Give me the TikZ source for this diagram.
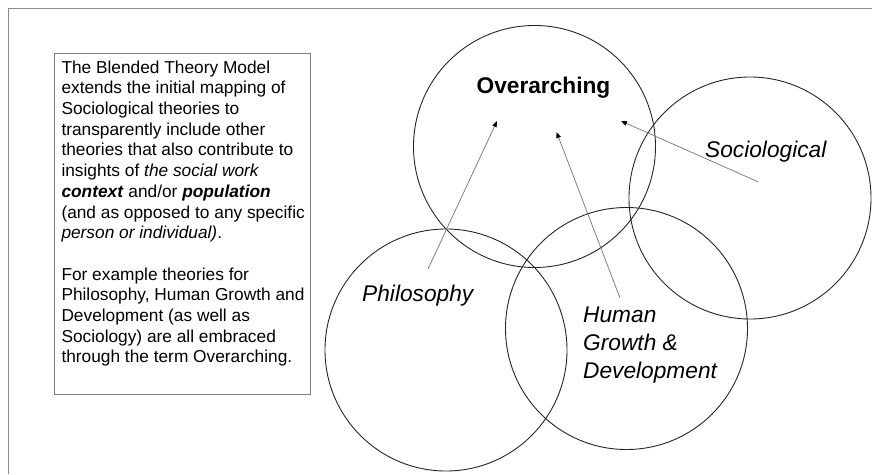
\documentclass[tikz,border=0pt]{standalone}
\usepackage{fontspec}
\setmainfont{Liberation Sans}
\usetikzlibrary{arrows.meta}
\begin{document}
\begin{tikzpicture}[x=1pt,y=-1pt,
  venn/.style={circle,draw=black!85,line width=0.9pt,minimum size=242pt,inner sep=0pt},
  lbl/.style={inner sep=0pt,font=\fontsize{22.7}{28}\selectfont\itshape},
  feed/.style={draw=black!55,line width=0.7pt,-{Triangle[length=6pt,width=4.5pt,black]}},
  infobox/.style={draw=black!50,line width=0.8pt}]
\useasboundingbox (0,0) rectangle (872,474);
% outer frame
\draw[black!45,line width=0.8pt] (8,474) -- (8,8) -- (872,8);
% text box
\draw[infobox] (54,53) rectangle (310,394);
\node[inner sep=0pt,anchor=north west,align=left,
      font=\fontsize{17.3}{20.7}\selectfont] (info) at (61.3,60.4)
{The Blended Theory Model\\
extends the initial mapping of\\
Sociological theories to\\
transparently include other\\
theories that also contribute to\\
insights of \textit{the social work}\\
\textbf{\textit{context}} and/or \textbf{\textit{population}}\\
(and as opposed to any specific\\
\textit{person or individual)}.\\
\mbox{}\\
For example theories for\\
Philosophy, Human Growth and\\
Development (as well as\\
Sociology) are all embraced\\
through the term Overarching.};
% circles
\node[venn] (over) at (534.5,146.5) {};
\node[venn] (soc) at (750,198) {};
\node[venn] (phil) at (446,350) {};
\node[venn] (hgd) at (626.5,328.5) {};
% labels
\node[inner sep=0pt,anchor=base,font=\fontsize{22.7}{28}\selectfont\bfseries] (overl) at (543.5,93) {Overarching};
\node[lbl,anchor=base west] (socl) at (705,157) {Sociological};
\node[lbl,anchor=base west] (phill) at (362,301.5) {Philosophy};
\node[lbl,anchor=north west,align=left] (hgdl) at (583,307) {Human\\Growth \&\\Development};
% arrows
\coordinate (phS) at (428,269);
\coordinate (phT) at (497,121);
\coordinate (hgS) at (620,298);
\coordinate (hgT) at (556.5,132);
\coordinate (soS) at (758.5,182);
\coordinate (soT) at (621,121);
\draw[feed] (phS) -- (phT);
\draw[feed] (hgS) -- (hgT);
\draw[feed] (soS) -- (soT);
\end{tikzpicture}
\end{document}
